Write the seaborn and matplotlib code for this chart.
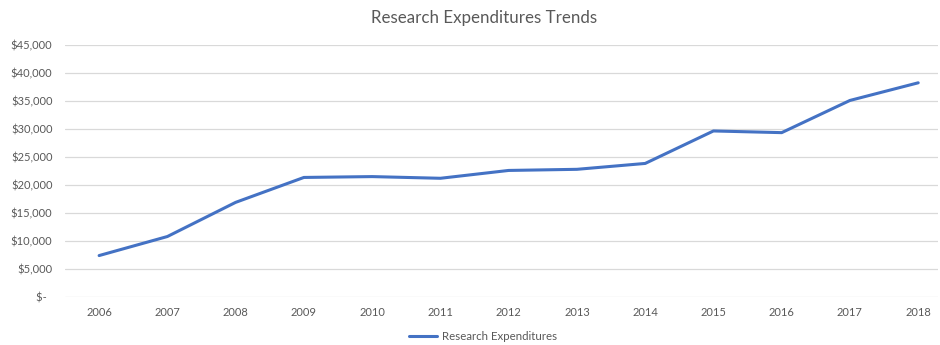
import matplotlib
matplotlib.use("Agg")
import matplotlib.pyplot as plt
import matplotlib.ticker as mticker
import seaborn as sns
import pandas as pd

years = [2006, 2007, 2008, 2009, 2010, 2011, 2012, 2013, 2014, 2015, 2016, 2017, 2018]
expenditures = [7400, 10800, 16900, 21350, 21500, 21200, 22600, 22800, 23850,
                29650, 29350, 35100, 38250]
series_name = "Research Expenditures"
title = "Research Expenditures Trends"
y_ticks = [0, 5000, 10000, 15000, 20000, 25000, 30000, 35000, 40000, 45000]

df = pd.DataFrame({"Year": years, "Value": expenditures, "Series": series_name})

sns.set_theme(style="white")
plt.rcParams["font.family"] = ["Lato", "DejaVu Sans"]

text_grey = "#595959"
line_blue = "#4472C4"
grid_grey = "#D9D9D9"

fig = plt.figure(figsize=(9.4, 3.45), dpi=100)
ax = fig.add_axes([65 / 940, (345 - 297) / 345, (938 - 65) / 940, 252 / 345])

sns.lineplot(data=df, x="Year", y="Value", hue="Series", palette=[line_blue],
             linewidth=2.2, ax=ax, legend=False, solid_capstyle="round")

ax.set_ylim(0, 45000)
ax.set_yticks(y_ticks)
ax.set_xlim(2005.5, 2018.29)
ax.set_xticks(years)
ax.set_xticklabels([str(y) for y in years])


def money(v, pos):
    if v == 0:
        return "$-  "
    return f"${v:,.0f}"


ax.yaxis.set_major_formatter(mticker.FuncFormatter(money))
ax.grid(axis="y", color=grid_grey, linewidth=0.9)
ax.grid(axis="x", visible=False)
ax.set_axisbelow(True)
for s in ax.spines.values():
    s.set_visible(False)

ax.tick_params(axis="y", length=0, pad=9, labelsize=8, labelcolor=text_grey)
ax.tick_params(axis="x", length=0, pad=7, labelsize=8, labelcolor=text_grey)
ax.set_xlabel("")
ax.set_ylabel("")

fig.text(0.515, 1 - 18 / 345, title, ha="center", va="center",
         fontsize=12.2, color=text_grey)

handle = plt.Line2D([], [], color=line_blue, linewidth=2.2)
fig.legend([handle], [series_name], loc="center", bbox_to_anchor=(0.514, 1 - 337 / 345),
           frameon=False, fontsize=8.3, labelcolor=text_grey, handlelength=2.4,
           handletextpad=0.5)

fig.savefig("out.png", dpi=100, facecolor="white")
